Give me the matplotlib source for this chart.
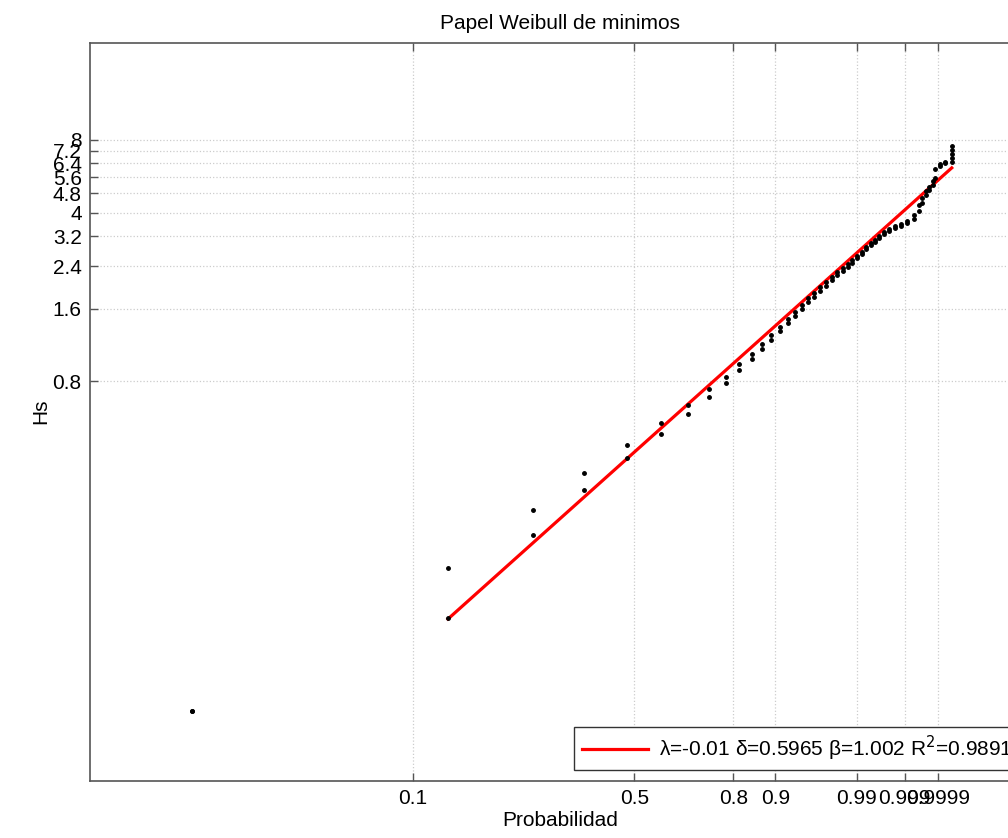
"""Weibull (minima) probability paper: Hs sample vs fitted straight line."""
import matplotlib
matplotlib.use("Agg")
import matplotlib.pyplot as plt
import numpy as np

plt.rcParams["font.family"] = ["Liberation Sans", "DejaVu Sans"]

# ── fitted parameters (legend) ───────────────────────────────────────────────
LAMBDA = -0.01
DELTA = 0.5965
BETA = 1.002
R2 = 0.9891

# ── sample: plotting position and the two Hs values drawn at it ──────────────
prob = [0.01587, 0.1322, 0.2531, 0.3623, 0.4770, 0.5820, 0.6661, 0.7305,
        0.7801, 0.8157, 0.8487, 0.8720, 0.8913, 0.9089, 0.9230, 0.9342,
        0.9443, 0.9521, 0.9591, 0.9654, 0.9710, 0.9759, 0.9795, 0.98324,
        0.98597, 0.98789, 0.99001, 0.99181, 0.99306, 0.99441, 0.99533,
        0.99612, 0.99695, 0.99763, 0.99827, 0.99876, 0.999124, 0.999431,
        0.999588, 0.999663, 0.999744, 0.999794, 0.999846, 0.999867,
        0.999910, 0.999940, 0.999967]
hs_upper = [0.0256, 0.1279, 0.2288, 0.3289, 0.4319, 0.5342, 0.6353, 0.7409,
            0.8313, 0.9415, 1.036, 1.140, 1.242, 1.341, 1.447, 1.547,
            1.654, 1.768, 1.854, 1.963, 2.058, 2.159, 2.264, 2.352,
            2.443, 2.537, 2.636, 2.738, 2.871, 2.983, 3.069,
            3.188, 3.311, 3.407, 3.505, 3.573, 3.676, 3.891,
            4.279, 4.573, 4.887, 5.124, 5.424, 6.078,
            6.373, 6.495, 7.559]
hs_lower = [0.0256, 0.0759, 0.1784, 0.2786, 0.3807, 0.4804, 0.5826, 0.6862,
            0.7849, 0.8890, 0.9876, 1.087, 1.184, 1.291, 1.393, 1.489,
            1.592, 1.702, 1.785, 1.890, 1.982, 2.098, 2.200, 2.286,
            2.374, 2.466, 2.586, 2.687, 2.817, 2.926, 3.011,
            3.128, 3.249, 3.343, 3.439, 3.505, 3.607, 3.746,
            4.042, 4.361, 4.705, 4.980, 5.222, 5.581,
            6.254, 6.434, 6.495]
# extra points stacked at the largest plotting position
prob_top = [0.999967, 0.999967, 0.999967]
hs_top = [7.278, 7.007, 6.747]

# ── axis ticks ───────────────────────────────────────────────────────────────
x_ticks = [0.1, 0.5, 0.8, 0.9, 0.99, 0.999, 0.9999]
x_tick_labels = ["0.1", "0.5", "0.8", "0.9", "0.99", "0.999", "0.9999"]
y_ticks = [0.8, 1.6, 2.4, 3.2, 4.0, 4.8, 5.6, 6.4, 7.2, 8.0]
y_tick_labels = ["0.8", "1.6", "2.4", "3.2", "4", "4.8", "5.6", "6.4", "7.2", "8"]


def paper_x(p):
    p = np.asarray(p, dtype=float)
    return np.log(-np.log(1.0 - p))


def paper_y(h):
    return np.log(np.asarray(h, dtype=float) - LAMBDA)


fig = plt.figure(figsize=(10.08, 8.38), dpi=100)
ax = fig.add_axes([90 / 1008, 57.3 / 838, 940 / 1008, 738 / 838])

# fitted line on the paper, between first and last paired plotting positions
p_line = np.array([prob[1], prob[-1]])
hs_line = LAMBDA + DELTA * (-np.log(1.0 - p_line)) ** (1.0 / BETA)
ax.plot(paper_x(p_line), paper_y(hs_line), color="#ff0000", lw=2.3,
        label=(f"λ={LAMBDA:g} δ={DELTA:g} β={BETA:g} "
               f"R$^{{2}}$={R2:g}"), zorder=3)

ax.plot(paper_x(prob), paper_y(hs_upper), ".", color="black", ms=5, zorder=4)
ax.plot(paper_x(prob), paper_y(hs_lower), ".", color="black", ms=5, zorder=4)
ax.plot(paper_x(prob_top), paper_y(hs_top), ".", color="black", ms=5, zorder=4)

ax.set_xlim(-5, 3)
ax.set_ylim(-4, 3)
ax.set_xticks(paper_x(x_ticks))
ax.set_xticklabels(x_tick_labels)
ax.set_yticks(paper_y(y_ticks))
ax.set_yticklabels(y_tick_labels)

frame = "#555555"
ax.tick_params(direction="in", length=6, width=1, colors=frame,
               labelcolor="black", labelsize=15, top=True, right=True, pad=6)
for s in ax.spines.values():
    s.set_color(frame)
    s.set_linewidth(1.2)
ax.grid(True, ls=":", color="#cccccc", lw=0.9)
ax.set_axisbelow(True)

ax.set_title("Papel Weibull de minimos", fontsize=15, pad=10)
ax.set_xlabel("Probabilidad", fontsize=15, labelpad=2)
ax.set_ylabel("Hs", fontsize=15, labelpad=2)

leg = ax.legend(loc="lower right", fontsize=15, fancybox=False,
                borderaxespad=0.5, handlelength=3.2, borderpad=0.35,
                handletextpad=0.5, framealpha=1)
leg.get_frame().set_edgecolor("#333333")
leg.get_frame().set_linewidth(1.0)

fig.savefig("out.png", dpi=100, facecolor="white")
